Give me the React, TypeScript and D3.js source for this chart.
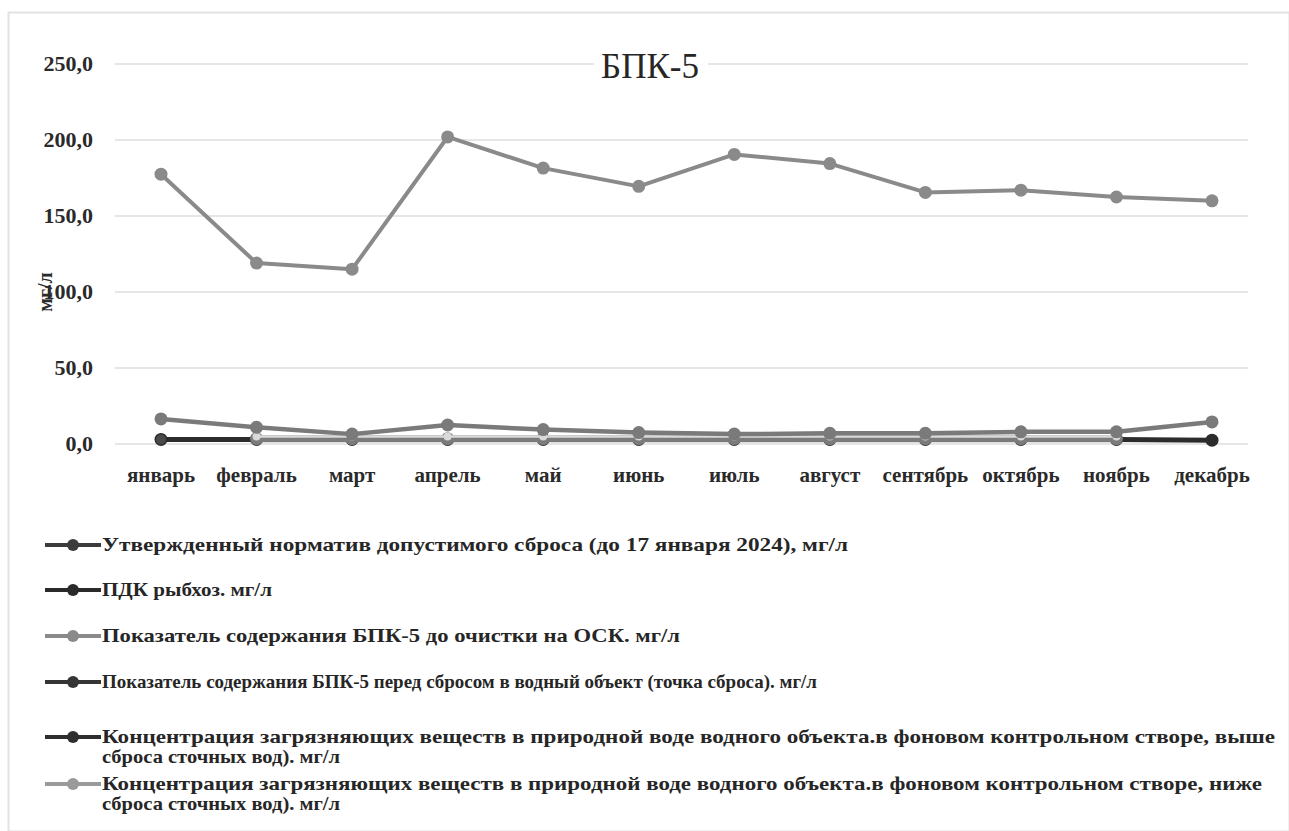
import { useEffect, useRef } from 'react';
import * as d3 from 'd3';

const months = ['январь', 'февраль', 'март', 'апрель', 'май', 'июнь', 'июль', 'август', 'сентябрь', 'октябрь', 'ноябрь', 'декабрь'];

const normValues: (number | null)[] = [3, null, null, null, null, null, null, null, null, null, null, null];
const pdkValues: (number | null)[] = [3, 3, 3, 3, 3, 3, 3, 3, 3, 3, 3, 2.5];
const beforeValues: (number | null)[] = [177.5, 119, 115, 202, 181.5, 169.5, 190.5, 184.5, 165.5, 167, 162.5, 160];
const afterValues: (number | null)[] = [16.5, 11, 6.5, 12.5, 9.5, 7.5, 6.5, 7, 7, 8, 8, 14.5];
const aboveValues: (number | null)[] = [null, 3.5, 3.5, 3.5, 3.5, 3.5, 3.5, 3.5, 3.5, 3.5, 3.5, null];
const belowValues: (number | null)[] = [null, 5, 5, 5, 5, 5, 5, 5, 5, 5, 5, null];

const yTicks = [0, 50, 100, 150, 200, 250];

const legendLabels = [
  ['Утвержденный норматив допустимого сброса (до 17 января 2024), мг/л'],
  ['ПДК рыбхоз. мг/л'],
  ['Показатель содержания БПК-5 до очистки на ОСК. мг/л'],
  ['Показатель содержания БПК-5 перед сбросом в водный объект (точка сброса). мг/л'],
  ['Концентрация загрязняющих веществ в природной воде водного объекта.в фоновом контрольном створе, выше', 'сброса сточных вод). мг/л'],
  ['Концентрация загрязняющих веществ в природной воде водного объекта.в фоновом контрольном створе, ниже', 'сброса сточных вод). мг/л'],
];

const FONT = '"Liberation Serif", "DejaVu Serif", serif';

const App = () => {
  const svgRef = useRef<SVGSVGElement>(null);

  useEffect(() => {
    if (!svgRef.current) return;
    const svg = d3.select(svgRef.current);
    svg.selectAll('*').remove();

    const W = 1289, H = 831;
    svg.append('rect').attr('width', W).attr('height', H).attr('fill', '#fff');
    svg.append('rect')
      .attr('x', 8.5).attr('y', 12.5).attr('width', W - 8).attr('height', H - 12)
      .attr('fill', 'none').attr('stroke', '#e2e2e2').attr('stroke-width', 2);

    const x = d3.scalePoint<string>().domain(months).range([161, 1212]);
    const y = d3.scaleLinear().domain([0, 250]).range([444, 64]);

    // grid
    svg.append('g').selectAll('line').data(yTicks).enter().append('line')
      .attr('x1', 115).attr('x2', 1248)
      .attr('y1', d => y(d)).attr('y2', d => y(d))
      .attr('stroke', '#dedede').attr('stroke-width', 1.5);

    // y tick labels
    svg.append('g').selectAll('text').data(yTicks).enter().append('text')
      .attr('x', 93).attr('y', d => y(d) + 7)
      .attr('text-anchor', 'end')
      .style('font-family', FONT).style('font-size', '22px').style('font-weight', 'bold')
      .style('fill', '#2a2a2a')
      .text(d => d3.format('.1f')(d).replace('.', ','));

    // y axis title
    svg.append('text')
      .attr('transform', `translate(52,${y(100)}) rotate(-90)`)
      .attr('text-anchor', 'middle')
      .style('font-family', FONT).style('font-size', '20px').style('font-weight', 'bold')
      .style('fill', '#2a2a2a')
      .text('мг/л');

    // x labels
    svg.append('g').selectAll('text').data(months).enter().append('text')
      .attr('x', d => x(d)!).attr('y', 482)
      .attr('text-anchor', 'middle')
      .style('font-family', FONT).style('font-size', '21px').style('font-weight', 'bold')
      .style('fill', '#2a2a2a')
      .text(d => d);

    // title
    svg.append('rect').attr('x', 594).attr('y', 48).attr('width', 114).attr('height', 34).attr('fill', '#fff');
    svg.append('text')
      .attr('x', 650).attr('y', 78)
      .attr('text-anchor', 'middle')
      .style('font-family', FONT).style('font-size', '35px')
      .style('fill', '#262626')
      .text('БПК-5');

    const series = [
      { values: pdkValues, color: '#2c2c2c', width: 5, r: 6.5 },
      { values: normValues, color: '#4a4a4a', width: 2.5, r: 5 },
      { values: aboveValues, color: '#7b7b7b', width: 7, r: 6.5 },
      { values: belowValues, color: '#d9d9d9', width: 2.5, r: 4 },
      { values: afterValues, color: '#7a7a7a', width: 4.5, r: 6.5 },
      { values: beforeValues, color: '#8a8a8a', width: 4, r: 6.5 },
    ];

    const line = d3.line<number | null>()
      .defined(d => d !== null)
      .x((_d, i) => x(months[i])!)
      .y(d => y(d as number));

    series.forEach(s => {
      svg.append('path')
        .datum(s.values)
        .attr('d', line)
        .attr('fill', 'none')
        .attr('stroke', s.color)
        .attr('stroke-width', s.width)
        .attr('stroke-linejoin', 'round');
      svg.append('g').selectAll('circle')
        .data(s.values.map((v, i) => ({ v, i })).filter(p => p.v !== null))
        .enter().append('circle')
        .attr('cx', p => x(months[p.i])!)
        .attr('cy', p => y(p.v as number))
        .attr('r', s.r)
        .attr('fill', s.color);
    });

    // legend
    const legendColors = ['#3c3c3c', '#2a2a2a', '#8a8a8a', '#353535', '#2e2e2e', '#9a9a9a'];
    const legendWidths = [
      [746],
      [170],
      [578],
      [715],
      [1173, 238],
      [1160, 238],
    ];
    const legendY = [545, 590, 636, 682, 737, 784];

    const lg = svg.append('g');
    legendLabels.forEach((lines, k) => {
      const cy = legendY[k];
      lg.append('line')
        .attr('x1', 45).attr('x2', 101).attr('y1', cy).attr('y2', cy)
        .attr('stroke', legendColors[k]).attr('stroke-width', 4);
      lg.append('circle').attr('cx', 73).attr('cy', cy).attr('r', 6).attr('fill', legendColors[k]);
      lines.forEach((t, j) => {
        lg.append('text')
          .attr('x', 102).attr('y', cy + 6 + j * 20)
          .attr('textLength', legendWidths[k][j])
          .attr('lengthAdjust', 'spacingAndGlyphs')
          .style('font-family', FONT).style('font-size', '19px').style('font-weight', 'bold')
          .style('fill', '#262626')
          .text(t);
      });
    });
  }, []);

  return (
    <svg
      ref={svgRef}
      width={1289}
      height={831}
      style={{ position: 'absolute', left: 0, top: 0, display: 'block' }}
    />
  );
};

export default App;
